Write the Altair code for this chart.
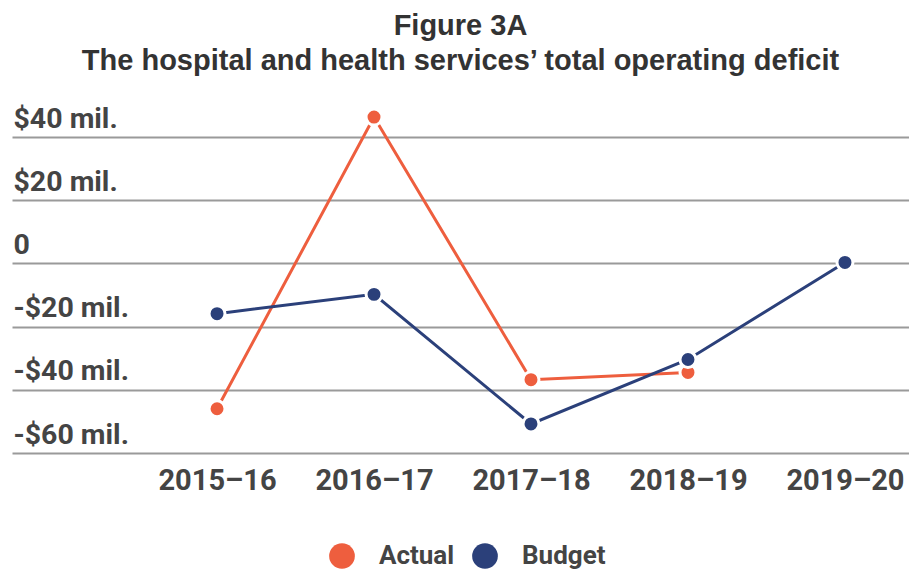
import altair as alt
import pandas as pd

years = ["2015–16", "2016–17", "2017–18", "2018–19", "2019–20"]
actual = [-46, 46.3, -36.8, -34.5, None]
budget = [-15.9, -9.8, -50.8, -30.4, 0.3]
series = ["Actual", "Budget"]
colors = ["#EE5E3E", "#2B407A"]
y_ticks = [-60, -40, -20, 0, 20, 40]

rows = []
for name, vals in zip(series, [actual, budget]):
    for yr, v in zip(years, vals):
        if v is not None:
            rows.append({"year": yr, "value": v, "series": name})
df = pd.DataFrame(rows)

label_expr = ("datum.value == 0 ? '0' : (datum.value > 0 ? '$' + datum.value + ' mil.' : "
              "'-$' + abs(datum.value) + ' mil.')")

x = alt.X("year:O", sort=years, title=None,
          scale=alt.Scale(type="point", padding=0.857, align=0.762),
          axis=alt.Axis(labelAngle=0, domain=False, ticks=False, grid=False,
                        labelFontSize=29, labelFont="Roboto", labelFontWeight="bold",
                        labelColor="#444444", labelPadding=13))
y = alt.Y("value:Q", title=None,
          scale=alt.Scale(domain=[-60, 40], nice=False, zero=False),
          axis=alt.Axis(values=y_ticks, labelExpr=label_expr, domain=False, ticks=False,
                        tickSize=0, grid=True, gridColor="#9a9a9a", gridWidth=2,
                        labelAlign="left", labelBaseline="alphabetic", labelPadding=-1,
                        labelOffset=-10, labelFontSize=28.5, labelFont="Roboto",
                        labelFontWeight="bold", labelColor="#444444"))
color = alt.Color("series:N", scale=alt.Scale(domain=series, range=colors),
                  legend=alt.Legend(title=None, orient="none", direction="horizontal",
                                    legendX=317, legendY=406, symbolType="circle",
                                    symbolSize=660, symbolStrokeWidth=0,
                                    labelFontSize=26, labelFont="Roboto",
                                    labelFontWeight="bold", labelColor="#444444",
                                    labelOffset=24, columnPadding=17))

base = alt.Chart(df)
lines = base.mark_line(strokeWidth=3).encode(x=x, y=y, color=color, detail="series:N")
points = base.mark_circle(size=255, opacity=1, stroke="white", strokeWidth=3).encode(
    x=x, y=y, color=color)

chart = alt.layer(lines, points).properties(
    width=897, height=316,
    autosize=alt.AutoSizeParams(type="none"),
    padding={"left": 4, "top": 129, "right": 0, "bottom": 118},
    title=alt.Title(["Figure 3A", "The hospital and health services’ total operating deficit"],
                    anchor="middle", fontSize=29, font="Liberation Sans", fontWeight="bold",
                    color="#333333", lineHeight=35, offset=27),
).configure_view(stroke=None)

chart.save("out.html", embed_options={"renderer": "svg", "actions": False})
